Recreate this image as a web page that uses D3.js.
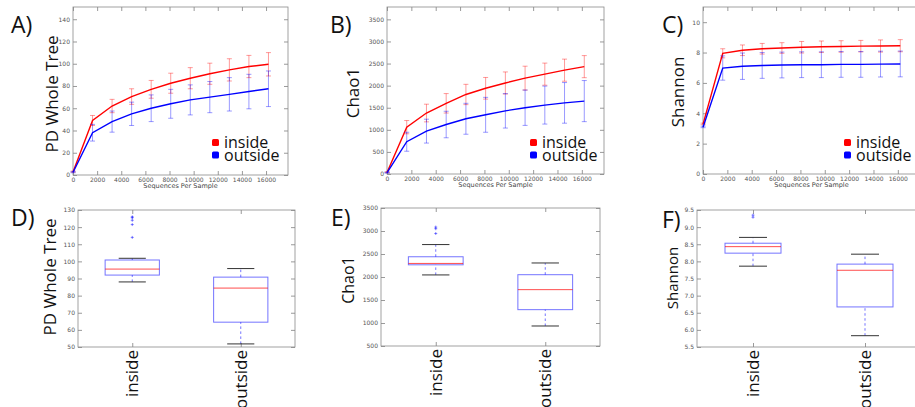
<!DOCTYPE html>
<html>
<head>
<meta charset="utf-8">
<script src="https://cdn.jsdelivr.net/npm/d3@7"></script>
<style>
  html, body { margin: 0; padding: 0; background: #fff; }
  svg { display: block; }
</style>
</head>
<body>
<svg id="chart" width="915" height="407"></svg>
<script>
// rarefaction depths (sequences per sample)
const seqDepth = [10, 1620, 3240, 4860, 6480, 8100, 9720, 11340, 12960, 14580, 16200];
const xTicks = [0, 2000, 4000, 6000, 8000, 10000, 12000, 14000, 16000];

// PD whole tree
const pdInside = [3, 49, 62, 70.5, 77, 82.5, 87, 91, 94.5, 97.5, 99.5];
const pdInsideErr = [0.5, 4.5, 6, 7, 8, 9, 9.5, 9.5, 10, 10, 10.5];
const pdOutside = [2.5, 38, 48, 55, 60, 64, 67.5, 70, 72.5, 75, 77.5];
const pdOutsideErr = [0.5, 7.5, 9.5, 10.5, 12, 13, 13.5, 14, 15, 15.5, 16];
const pdTicks = [0, 20, 40, 60, 80, 100, 120, 140];

// Chao1
const chaoInside = [40, 1060, 1380, 1600, 1800, 1940, 2060, 2170, 2260, 2350, 2430];
const chaoInsideErr = [10, 150, 200, 220, 230, 245, 250, 270, 250, 250, 250];
const chaoOutside = [30, 730, 970, 1120, 1250, 1340, 1430, 1500, 1560, 1610, 1650];
const chaoOutsideErr = [10, 215, 270, 300, 350, 395, 390, 400, 430, 460, 465];
const chaoTicks = [0, 500, 1000, 1500, 2000, 2500, 3000, 3500];

// Shannon
const shInside = [3.3, 7.95, 8.15, 8.25, 8.3, 8.35, 8.38, 8.4, 8.42, 8.43, 8.45];
const shInsideErr = [0.05, 0.3, 0.35, 0.35, 0.35, 0.38, 0.38, 0.38, 0.38, 0.4, 0.4];
const shOutside = [3.1, 6.98, 7.1, 7.15, 7.18, 7.2, 7.2, 7.22, 7.22, 7.24, 7.25];
const shOutsideErr = [0.05, 0.8, 0.87, 0.85, 0.85, 0.85, 0.85, 0.85, 0.85, 0.85, 0.85];
const shTicks = [0, 2, 4, 6, 8, 10];

// box plot summaries: [whisker low, q1, median, q3, whisker high]
const groups = ['inside', 'outside'];
const pdBoxes = [[88, 92, 95.5, 100.8, 101.8], [51.8, 64.5, 84.4, 90.8, 95.8]];
const pdFliers = [[114, 121.5, 124, 125.5, 126], []];
const pdBoxTicks = [50, 60, 70, 80, 90, 100, 110, 120, 130];

const chaoBoxes = [[2045, 2265, 2295, 2440, 2705], [935, 1290, 1725, 2050, 2305]];
const chaoFliers = [[2945, 3050, 3085], []];
const chaoBoxTicks = [500, 1000, 1500, 2000, 2500, 3000, 3500];

const shBoxes = [[7.86, 8.24, 8.43, 8.53, 8.7], [5.83, 6.67, 7.74, 7.92, 8.21]];
const shFliers = [[9.29, 9.35], []];
const shBoxTicks = [5.5, 6.0, 6.5, 7.0, 7.5, 8.0, 8.5, 9.0, 9.5];

const RED = '#ff0000', BLUE = '#0000ff';
const svg = d3.select('#chart');

function frame(g, x, y, xt, yt, xfmt, yfmt) {
  const [x0, x1] = x.range(), [y0, y1] = y.range();
  const axes = [
    [d3.axisBottom(x).tickValues(xt).tickFormat(xfmt), y0, 'x'],
    [d3.axisTop(x).tickValues(xt).tickFormat(''), y1, 'x'],
    [d3.axisLeft(y).tickValues(yt).tickFormat(yfmt), x0, 'y'],
    [d3.axisRight(y).tickValues(yt).tickFormat(''), x1, 'y']
  ];
  axes.forEach(([ax, pos, dir]) => {
    g.append('g')
      .attr('transform', dir === 'x' ? `translate(0,${pos})` : `translate(${pos},0)`)
      .call(ax.tickSizeInner(-4).tickSizeOuter(0).tickPadding(3))
      .call(a => a.select('.domain').remove())
      .call(a => a.selectAll('line').attr('stroke', '#555').attr('stroke-width', 0.6))
      .call(a => a.selectAll('text')
        .attr('font-family', 'DejaVu Sans').attr('font-size', 6).attr('fill', '#555'));
  });
  g.append('rect')
    .attr('x', x0).attr('y', y1)
    .attr('width', x1 - x0).attr('height', y0 - y1)
    .attr('fill', 'none').attr('stroke', '#8a8a8a').attr('stroke-width', 0.8);
}

function panelLabel(text, x, y) {
  svg.append('text').attr('x', x).attr('y', y)
    .attr('font-family', 'Open Sans').attr('font-size', 23)
    .attr('fill', '#111').text(text);
}

function yLabel(text, x, y, size) {
  svg.append('text')
    .attr('transform', `translate(${x},${y}) rotate(-90)`)
    .attr('text-anchor', 'middle')
    .attr('font-family', 'Open Sans').attr('font-size', size)
    .attr('fill', '#111').text(text);
}

function rarePanel(box, yMax, ticks, ins, insErr, outs, outsErr, legendX) {
  const g = svg.append('g');
  const x = d3.scaleLinear().domain([0, 17820]).range([box.left, box.right]);
  const y = d3.scaleLinear().domain([0, yMax]).range([box.bottom, box.top]);
  frame(g, x, y, xTicks, ticks, d3.format('d'), d3.format('d'));

  const line = d3.line().x((d, i) => x(seqDepth[i])).y(d => y(d));
  [[ins, insErr, RED], [outs, outsErr, BLUE]].forEach(([vals, errs, col]) => {
    g.append('path').attr('d', line(vals))
      .attr('fill', 'none').attr('stroke', col).attr('stroke-width', 1.4);
    const eb = g.append('g').attr('stroke', col).attr('stroke-opacity', 0.4).attr('stroke-width', 1);
    vals.forEach((v, i) => {
      const cx = x(seqDepth[i]);
      const lo = y(v - errs[i]), hi = y(v + errs[i]);
      eb.append('line').attr('x1', cx).attr('x2', cx).attr('y1', lo).attr('y2', hi);
      eb.append('line').attr('x1', cx - 2.5).attr('x2', cx + 2.5).attr('y1', lo).attr('y2', lo);
      eb.append('line').attr('x1', cx - 2.5).attr('x2', cx + 2.5).attr('y1', hi).attr('y2', hi);
    });
  });

  g.append('text')
    .attr('x', (box.left + box.right) / 2).attr('y', box.bottom + 13)
    .attr('text-anchor', 'middle')
    .attr('font-family', 'DejaVu Sans').attr('font-size', 6.5).attr('fill', '#444')
    .text('Sequences Per Sample');

  // legend
  [['inside', RED], ['outside', BLUE]].forEach(([name, col], i) => {
    g.append('rect')
      .attr('x', legendX).attr('y', 139 + i * 12.5)
      .attr('width', 7).attr('height', 7).attr('rx', 1.5)
      .attr('fill', col);
    g.append('text')
      .attr('x', legendX + 12).attr('y', 148 + i * 12.5)
      .attr('font-family', 'Open Sans').attr('font-size', 16)
      .attr('fill', '#111').text(name);
  });
}

function boxPanel(box, yDomain, ticks, yfmt, stats, fliers) {
  const g = svg.append('g');
  const x = d3.scaleLinear().domain([0.5, 2.5]).range([box.left, box.right]);
  const y = d3.scaleLinear().domain(yDomain).range([box.bottom, box.top]);
  frame(g, x, y, [1, 2], ticks, () => '', yfmt);

  stats.forEach(([wlo, q1, med, q3, whi], i) => {
    const c = i + 1;
    g.append('line').attr('x1', x(c)).attr('x2', x(c)).attr('y1', y(wlo)).attr('y2', y(q1))
      .attr('stroke', BLUE).attr('stroke-opacity', 0.55).attr('stroke-dasharray', '2.5,2.5');
    g.append('line').attr('x1', x(c)).attr('x2', x(c)).attr('y1', y(q3)).attr('y2', y(whi))
      .attr('stroke', BLUE).attr('stroke-opacity', 0.55).attr('stroke-dasharray', '2.5,2.5');
    [wlo, whi].forEach(v => {
      g.append('line').attr('x1', x(c - 0.125)).attr('x2', x(c + 0.125))
        .attr('y1', y(v)).attr('y2', y(v))
        .attr('stroke', '#333').attr('stroke-width', 1);
    });
    g.append('rect')
      .attr('x', x(c - 0.25)).attr('y', y(q3))
      .attr('width', x(c + 0.25) - x(c - 0.25)).attr('height', y(q1) - y(q3))
      .attr('fill', 'none').attr('stroke', BLUE).attr('stroke-opacity', 0.55).attr('stroke-width', 1);
    g.append('line').attr('x1', x(c - 0.25)).attr('x2', x(c + 0.25))
      .attr('y1', y(med)).attr('y2', y(med))
      .attr('stroke', RED).attr('stroke-opacity', 0.7).attr('stroke-width', 1);
    fliers[i].forEach(v => {
      g.append('path')
        .attr('d', `M${x(c) - 1.5},${y(v)}h3M${x(c)},${y(v) - 1.5}v3`)
        .attr('stroke', BLUE).attr('stroke-opacity', 0.6).attr('stroke-width', 0.8);
    });
    g.append('text')
      .attr('transform', `translate(${x(c) + 6},${box.bottom + 3}) rotate(-90)`)
      .attr('text-anchor', 'end')
      .attr('font-family', 'Open Sans').attr('font-size', 17)
      .attr('fill', '#111').text(groups[i]);
  });
}

// top row: rarefaction curves
rarePanel({ left: 73, right: 288, top: 7, bottom: 175 }, 151, pdTicks,
  pdInside, pdInsideErr, pdOutside, pdOutsideErr, 212);
rarePanel({ left: 387, right: 604, top: 7, bottom: 174 }, 3780, chaoTicks,
  chaoInside, chaoInsideErr, chaoOutside, chaoOutsideErr, 530);
rarePanel({ left: 703, right: 920, top: 7, bottom: 174 }, 11, shTicks,
  shInside, shInsideErr, shOutside, shOutsideErr, 844);

// bottom row: box plots
boxPanel({ left: 78, right: 295, top: 210, bottom: 347 }, [50, 130], pdBoxTicks, d3.format('d'), pdBoxes, pdFliers);
boxPanel({ left: 381, right: 600, top: 208, bottom: 346 }, [500, 3500], chaoBoxTicks, d3.format('d'), chaoBoxes, chaoFliers);
boxPanel({ left: 697, right: 921, top: 210, bottom: 347 }, [5.5, 9.5], shBoxTicks, d3.format('.1f'), shBoxes, shFliers);

panelLabel('A)', 11, 33);
panelLabel('B)', 330, 33);
panelLabel('C)', 662, 33);
panelLabel('D)', 11, 226);
panelLabel('E)', 331, 226);
panelLabel('F)', 662, 228);

yLabel('PD Whole Tree', 58, 94, 17);
yLabel('Chao1', 359, 93, 17);
yLabel('Shannon', 684, 92, 17);
yLabel('PD Whole Tree', 56, 277, 17);
yLabel('Chao1', 354, 280, 16);
yLabel('Shannon', 678, 278, 15);
</script>
</body>
</html>
